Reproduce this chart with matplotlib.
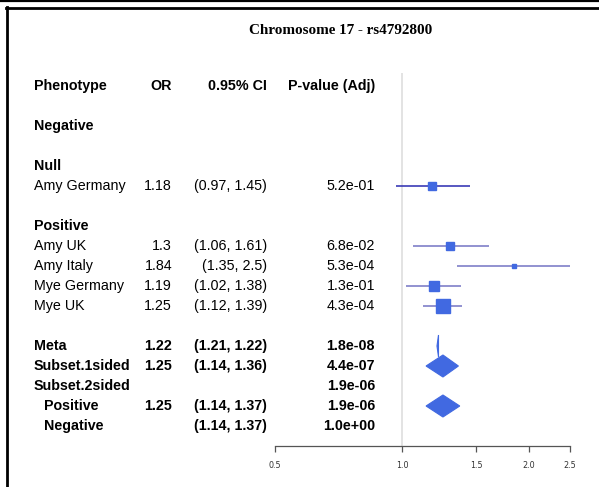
import numpy as np
import matplotlib.pyplot as plt
from matplotlib.lines import Line2D
from matplotlib.patches import Polygon

# study rows
studies = ["Amy Germany", "Amy UK", "Amy Italy", "Mye Germany", "Mye UK"]
groups = ["Null", "Positive", "Positive", "Positive", "Positive"]
or_vals = [1.18, 1.3, 1.84, 1.19, 1.25]
or_text = ["1.18", "1.3", "1.84", "1.19", "1.25"]
ci_lo = [0.97, 1.06, 1.35, 1.02, 1.12]
ci_hi = [1.45, 1.61, 2.5, 1.38, 1.39]
ci_text = ["(0.97, 1.45)", "(1.06, 1.61)", "(1.35, 2.5)", "(1.02, 1.38)", "(1.12, 1.39)"]
pvals = ["5.2e-01", "6.8e-02", "5.3e-04", "1.3e-01", "4.3e-04"]
weights = [0.58, 0.54, 0.36, 0.72, 1.0]

# summary rows
sum_labels = ["Meta", "Subset.1sided", "Subset.2sided", "Positive", "Negative"]
sum_or = [1.22, 1.25, None, 1.25, None]
sum_lo = [1.21, 1.14, None, 1.14, 1.14]
sum_hi = [1.22, 1.36, None, 1.37, 1.37]
sum_or_text = ["1.22", "1.25", "", "1.25", ""]
sum_ci_text = ["(1.21, 1.22)", "(1.14, 1.36)", "", "(1.14, 1.37)", "(1.14, 1.37)"]
sum_p = ["1.8e-08", "4.4e-07", "1.9e-06", "1.9e-06", "1.0e+00"]

xticks = [0.5, 1.0, 1.5, 2.0, 2.5]

W, H = 599, 487
fig = plt.figure(figsize=(W / 100, H / 100), dpi=100)

# background axes in pixel units for the table
tab = fig.add_axes([0, 0, 1, 1])
tab.set_xlim(0, W)
tab.set_ylim(H, 0)
tab.axis('off')

# frame lines
tab.add_line(Line2D([0, W], [1, 1], color='black', lw=1.6))
tab.add_line(Line2D([6, W], [7.5, 7.5], color='black', lw=2))
tab.add_line(Line2D([7, 7], [6.5, H], color='black', lw=2))

fs = 10.3
sans = 'Liberation Sans'
def rowy(r):
    return 86 + 20 * r

x_lab, x_or, x_ci, x_p = 34, 172, 267, 375

fig.text(341 / W, 1 - 31 / H, "Chromosome 17 - rs4792800", ha='center', va='center',
         family='Liberation Serif', weight='bold', fontsize=10.9)

hdr = dict(va='center', family=sans, weight='bold', fontsize=fs)
reg = dict(va='center', family=sans, fontsize=fs)
tab.text(x_lab, rowy(0), "Phenotype", ha='left', **hdr)
tab.text(x_or, rowy(0), "OR", ha='right', **hdr)
tab.text(x_ci, rowy(0), "0.95% CI", ha='right', **hdr)
tab.text(x_p, rowy(0), "P-value (Adj)", ha='right', **hdr)
tab.text(x_lab, rowy(2), "Negative", ha='left', **hdr)

# study rows, one blank line before each group
rows = []
r = 2
last = None
for i in range(len(studies)):
    if groups[i] != last:
        r += 2
        tab.text(x_lab, rowy(r), groups[i], ha='left', **hdr)
        last = groups[i]
    r += 1
    rows.append(r)
    tab.text(x_lab, rowy(r), studies[i], ha='left', **reg)
    tab.text(x_or, rowy(r), or_text[i], ha='right', **reg)
    tab.text(x_ci, rowy(r), ci_text[i], ha='right', **reg)
    tab.text(x_p, rowy(r), pvals[i], ha='right', **reg)

sum_rows = []
r += 1
for i in range(len(sum_labels)):
    r += 1
    sum_rows.append(r)
    indent = 10 if i >= 3 else 0
    tab.text(x_lab + indent, rowy(r), sum_labels[i], ha='left', **hdr)
    tab.text(x_or, rowy(r), sum_or_text[i], ha='right', **hdr)
    tab.text(x_ci, rowy(r), sum_ci_text[i], ha='right', **hdr)
    tab.text(x_p, rowy(r), sum_p[i], ha='right', **hdr)

# forest axes
ax = fig.add_axes([275 / W, (H - 446) / H, 295 / W, (446 - 73) / H])
ax.patch.set_alpha(0)
ax.set_xscale('log')
ax.set_xlim(0.5, 2.5)
ax.set_ylim(18, -0.65)
ax.axvline(1.0, color='#dedede', lw=1.2, zorder=0)

for i in range(len(studies)):
    lc = '#2a2ab0' if groups[i] == "Null" else '#7474c4'
    ax.plot([ci_lo[i], ci_hi[i]], [rows[i], rows[i]], color=lc, lw=1.1,
            solid_capstyle='butt', zorder=2)
    ax.plot(or_vals[i], rows[i], marker='s', markersize=10 * weights[i],
            color='#4169e1', mec='#4169e1', zorder=3)

for i in range(len(sum_labels)):
    if sum_or[i] is None:
        continue
    y = sum_rows[i]
    h = 0.55
    pts = [(sum_lo[i], y), (sum_or[i], y - h), (sum_hi[i], y), (sum_or[i], y + h)]
    ax.add_patch(Polygon(pts, closed=True, facecolor='#4169e1', edgecolor='#4169e1',
                         lw=0.8, zorder=3))

for s in ['top', 'right', 'left']:
    ax.spines[s].set_visible(False)
ax.spines['bottom'].set_color('#555555')
ax.spines['bottom'].set_linewidth(0.9)
ax.set_yticks([])
ax.set_xticks(xticks)
ax.set_xticklabels(["%.1f" % t for t in xticks])
ax.minorticks_off()
ax.tick_params(axis='x', which='both', direction='out', length=4, width=0.9,
               color='#555555', labelsize=5.8, pad=7, labelcolor='#333333')

fig.savefig('out.png', dpi=100)
